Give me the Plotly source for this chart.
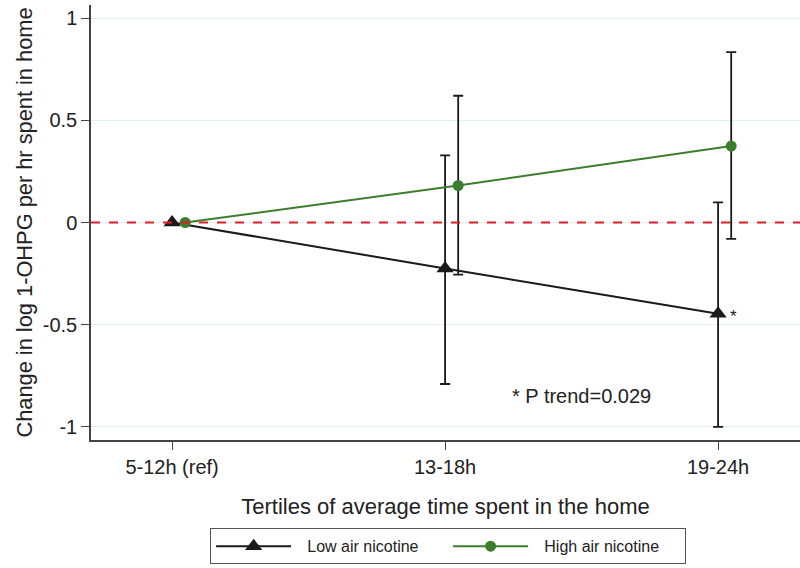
import plotly.graph_objects as go

categories = ["5-12h (ref)", "13-18h", "19-24h"]
low_vals = [0.0, -0.225, -0.446]
low_upper = [None, 0.328, 0.098]
low_lower = [None, -0.79, -1.0]
high_vals = [0.0, 0.181, 0.374]
high_upper = [None, 0.62, 0.833]
high_lower = [None, -0.255, -0.08]
y_ticks = [-1, -0.5, 0, 0.5, 1]
y_tick_labels = ["-1", "-0.5", "0", "0.5", "1"]
series_names = ["Low air nicotine", "High air nicotine"]

pos = [1, 2, 3]
offset = 0.048
low_x = pos
high_x = [p + offset for p in pos]

def err(vals, up, lo):
    plus = [0 if u is None else u - v for v, u in zip(vals, up)]
    minus = [0 if l is None else v - l for v, l in zip(vals, lo)]
    return plus, minus

lp, lm = err(low_vals, low_upper, low_lower)
hp, hm = err(high_vals, high_upper, high_lower)

font = "Liberation Sans, Arial, sans-serif"
pad = "\u2002\u2009"
fig = go.Figure()
fig.add_hline(y=0, line=dict(color="rgb(225,30,40)", width=2, dash="dash"), layer="above")
fig.add_trace(go.Scatter(
    x=low_x, y=low_vals, mode="lines+markers", name=pad + series_names[0],
    line=dict(color="#1a1a1a", width=2),
    marker=dict(symbol="triangle-up", size=15, color="#1a1a1a"),
    error_y=dict(type="data", symmetric=False, array=lp, arrayminus=lm,
                 color="#1a1a1a", thickness=1.8, width=5),
))
fig.add_trace(go.Scatter(
    x=high_x, y=high_vals, mode="lines+markers", name=pad + series_names[1],
    line=dict(color="#3b7f2e", width=2),
    marker=dict(symbol="circle", size=11, color="#3b7f2e"),
    error_y=dict(type="data", symmetric=False, array=hp, arrayminus=hm,
                 color="#1a1a1a", thickness=1.8, width=5),
))

fig.add_annotation(x=low_x[2], y=low_vals[2], text="*", showarrow=False,
                   xshift=15, yshift=-3, font=dict(family=font, size=17, color="#222"))
fig.add_annotation(x=2.5, y=-0.85, text="* P trend=0.029", showarrow=False,
                   font=dict(family=font, size=20, color="#222"))

fig.update_layout(
    width=800, height=568,
    margin=dict(l=91, r=0, t=5, b=128),
    plot_bgcolor="white", paper_bgcolor="white",
    font=dict(family=font, color="#222"),
    showlegend=True,
    legend=dict(orientation="h", x=0.168, xanchor="left", y=-0.203, yanchor="top",
                bordercolor="#555", borderwidth=1, font=dict(size=16, family=font),
                itemwidth=75, entrywidth=147, tracegroupgap=0),
)
fig.update_xaxes(
    range=[0.703, 3.30], tickmode="array", tickvals=pos, ticktext=categories,
    showgrid=False, zeroline=False, showline=True, linecolor="#444", linewidth=1.5,
    ticks="outside", ticklen=8, tickcolor="#444", tickfont=dict(size=20),
    automargin=False,
    title=dict(text="Tertiles of average time spent in the home", font=dict(size=22), standoff=22),
)
fig.update_yaxes(
    range=[-1.064, 1.064], tickmode="array", tickvals=y_ticks, ticktext=y_tick_labels,
    showgrid=True, gridcolor="#dff0f0", gridwidth=1, zeroline=False,
    showline=True, linecolor="#444", linewidth=1.5,
    ticks="outside", ticklen=8, tickcolor="#444", tickfont=dict(size=20),
    automargin=False,
    title=dict(text="Change in log 1-OHPG per hr spent in home", font=dict(size=21.8), standoff=4),
)

fig.write_html("out.html", config={"displayModeBar": False},
               post_script="document.body.style.margin='0';document.body.style.padding='0';")
